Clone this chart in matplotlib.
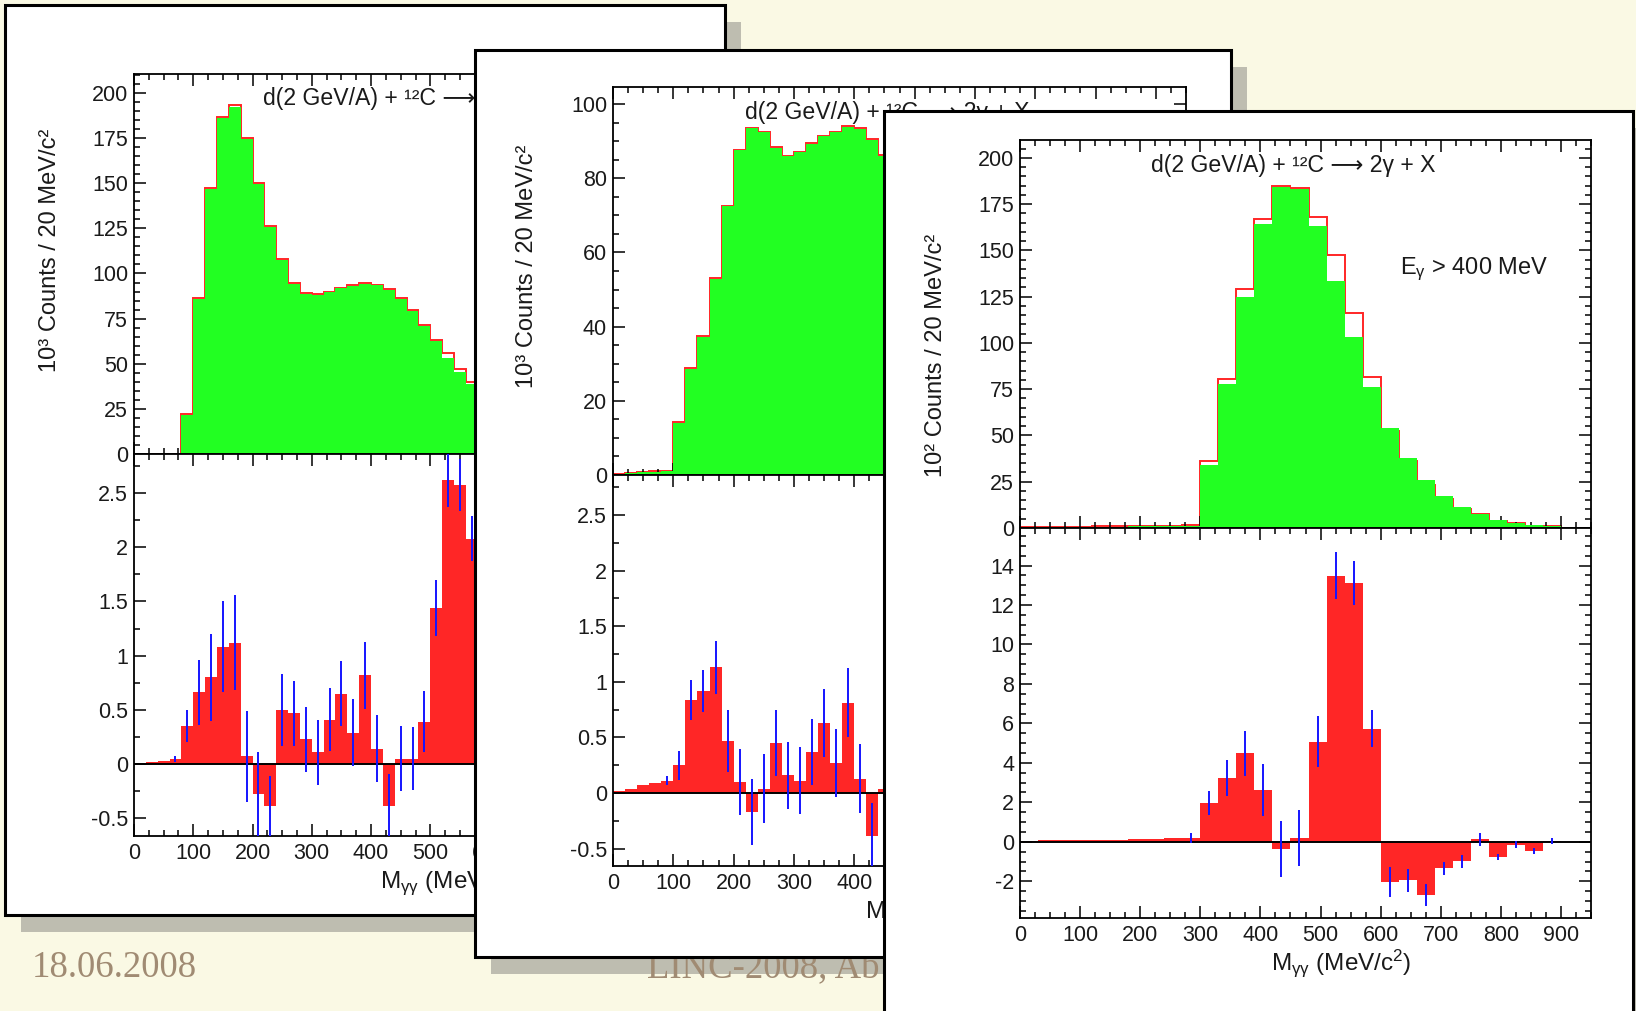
# three overlapping ROOT-style slides: M(gamma gamma) spectra and background-subtracted difference

import numpy as np
from matplotlib import pyplot as plt
from matplotlib.patches import Rectangle
from matplotlib.transforms import Affine2D
import matplotlib.ticker as plticker

plt.rcParams['font.family'] = ['Liberation Sans', 'DejaVu Sans']
plt.rcParams['mathtext.fontset'] = 'custom'
plt.rcParams['mathtext.rm'] = 'Liberation Sans'
plt.rcParams['mathtext.it'] = 'Liberation Sans:italic'
plt.rcParams['mathtext.bf'] = 'Liberation Sans:bold'
plt.rcParams['axes.unicode_minus'] = False

W, H = 1636, 1011

# ---------------- data ----------------
# panel 1: 20 MeV bins starting at 0 (only the part not covered by panel 2)
p1_bin = 20
p1_green = [0, 0, 0, 0, 21.6, 85.8, 147.0, 186.2, 192.3, 174.7, 149.8, 125.8, 107.7, 94.3, 88.7,
            88.2, 89.7, 91.7, 93.2, 94.3, 93.5, 90.8, 85.8, 79.3, 71.0, 62.5, 53.3, 45.2, 38.7]
p1_red = [0, 0, 0, 0, 22.0, 86.2, 147.6, 186.8, 193.2, 175.0, 150.2, 126.2, 108.0, 94.6, 89.0,
          88.6, 90.0, 92.0, 93.6, 94.8, 93.8, 91.2, 86.2, 79.8, 71.6, 63.4, 55.7, 47.2, 39.9]
p1_diff = [0.01, 0.02, 0.03, 0.045, 0.35, 0.66, 0.80, 1.08, 1.12, 0.07, -0.28, -0.39, 0.50, 0.47, 0.23,
           0.11, 0.41, 0.65, 0.29, 0.82, 0.14, -0.39, 0.05, 0.05, 0.39, 1.44, 2.62, 2.57, 2.08]
p1_err = [0, 0, 0, 0.03, 0.15, 0.30, 0.40, 0.42, 0.44, 0.42, 0.39, 0.28, 0.33, 0.30, 0.30,
          0.30, 0.29, 0.30, 0.31, 0.31, 0.31, 0.30, 0.30, 0.29, 0.28, 0.26, 0.25, 0.24, 0.21]

# panel 2: 20 MeV bins
p2_bin = 20
p2_green = [0.3, 0.5, 0.7, 0.9, 1.1, 13.9, 28.5, 37.3, 52.9, 72.4, 87.5, 93.5, 92.4, 88.1, 85.9,
            87.0, 89.3, 91.3, 92.4, 93.8, 93.3, 90.4, 86.0]
p2_red = [0.4, 0.6, 0.8, 1.0, 1.2, 14.2, 28.8, 37.6, 53.2, 72.6, 87.7, 93.6, 92.6, 88.4, 86.1,
          87.2, 89.5, 91.5, 92.6, 94.2, 93.5, 90.6, 86.2]
p2_diff = [0.02, 0.04, 0.07, 0.09, 0.11, 0.25, 0.84, 0.92, 1.13, 0.47, 0.10, -0.17, 0.04, 0.45, 0.16,
           0.11, 0.37, 0.63, 0.27, 0.81, 0.13, -0.39, 0.04]
p2_err = [0, 0, 0, 0, 0.04, 0.13, 0.18, 0.19, 0.24, 0.28, 0.30, 0.30, 0.31, 0.30, 0.30,
          0.30, 0.30, 0.31, 0.31, 0.31, 0.31, 0.30, 0.30]

# panel 3: E_gamma > 400 MeV, 30 MeV bins from 0 to 900
p3_bin = 30
p3_green = [0.3, 0.4, 0.5, 0.6, 0.7, 0.8, 0.9, 1.0, 1.1, 1.2, 33.9, 77.8, 124.7, 164.3, 184.3,
            183.2, 163.4, 133.6, 103.1, 76.0, 54.3, 38.1, 26.2, 17.3, 11.4, 7.4, 4.5, 2.7, 1.4, 0.9]
p3_red = [0.5, 0.6, 0.7, 0.8, 0.9, 1.0, 1.1, 1.2, 1.3, 1.4, 36.1, 80.3, 129.1, 167.0, 184.6,
          183.5, 168.0, 147.3, 116.1, 81.4, 52.2, 36.2, 23.5, 15.9, 10.4, 7.5, 3.7, 2.6, 1.0, 0.9]
p3_diff = [0.06, 0.07, 0.08, 0.09, 0.10, 0.11, 0.13, 0.15, 0.17, 0.20, 1.95, 3.25, 4.48, 2.62, -0.34,
           0.20, 5.08, 13.49, 13.11, 5.74, -2.06, -1.95, -2.71, -1.35, -0.98, 0.12, -0.76, -0.14, -0.46, 0.02]
p3_err = [0, 0, 0, 0, 0, 0, 0, 0, 0, 0.25, 0.61, 0.92, 1.15, 1.31, 1.42,
          1.41, 1.27, 1.18, 1.10, 0.95, 0.76, 0.58, 0.55, 0.34, 0.33, 0.33, 0.15, 0.17, 0.15, 0.15]

title = 'd(2 GeV/A) + ¹²C ⟶ 2γ + X'
xlabel = r'M$_{\mathrm{\gamma\gamma}}$ (MeV/c$^{2}$)'

BG = '#FAF9E4'
SHADOW = '#BEBDB0'
GREEN = '#22FF22'
RED = '#FF2626'
BLUE = '#1414FF'
TXT = '#1a1a1a'

fig = plt.figure(figsize=(W / 100, H / 100), dpi=100, facecolor=BG)
pix = Affine2D().scale(1 / W, -1 / H).translate(0, 1) + fig.transFigure


def slide(x0, y0, x1, y1, z):
    # grey drop shadow then the white sheet with a black frame
    fig.add_artist(Rectangle((x0 + 16, y0 + 17), x1 - x0, y1 - y0, transform=pix,
                             facecolor=SHADOW, edgecolor='none', zorder=z))
    fig.add_artist(Rectangle((x0, y0), x1 - x0, y1 - y0, transform=pix,
                             facecolor='white', edgecolor='black', lw=2.2, zorder=z + 0.5))


def make_ax(x0, y0, x1, y1, z, xlab_max):
    ax = fig.add_axes([x0 / W, 1 - y1 / H, (x1 - x0) / W, (y1 - y0) / H])
    ax.set_zorder(z)
    ax.set_xlim(0, 950)
    ax.xaxis.set_major_locator(plticker.MultipleLocator(100))
    ax.xaxis.set_minor_locator(plticker.MultipleLocator(25))
    # labels lying under the next sheet are left blank
    ax.xaxis.set_major_formatter(plticker.FuncFormatter(
        lambda v, p: f'{v:g}' if v <= xlab_max else ''))
    ax.yaxis.set_major_formatter(plticker.FuncFormatter(lambda v, p: f'{v:g}'))
    ax.tick_params(which='both', direction='in', top=True, right=True, labelsize=15.5,
                   labelcolor=TXT, width=1.1)
    ax.tick_params(which='major', length=8.5)
    ax.tick_params(which='minor', length=4.3)
    ax.tick_params(axis='y', pad=4.3)
    ax.tick_params(axis='x', pad=5)
    for s in ax.spines.values():
        s.set_linewidth(1.3)
    return ax


def panel(frame, top, bot, z, binw, green, red, diff, err, ytop, ybot, ymaj, ymin, bmaj, bmin,
          ylab, ylab_pos, xlab_max, extra=None):
    slide(*frame, z)
    edges = np.arange(len(green) + 1) * binw
    centers = edges[:-1] + binw / 2

    ax1 = make_ax(top[0], top[1], top[2], top[3], z + 1, xlab_max)
    ax1.stairs(red, edges, color=RED, lw=1.4, zorder=1)
    ax1.stairs(green, edges, fill=True, color=GREEN, lw=0, zorder=2)
    ax1.set_ylim(0, ytop)
    ax1.yaxis.set_major_locator(plticker.MultipleLocator(ymaj))
    ax1.yaxis.set_minor_locator(plticker.MultipleLocator(ymin))
    ax1.tick_params(labelbottom=False)
    ax1.text(0.23, 0.935, title, transform=ax1.transAxes, ha='left', va='center', fontsize=16.6,
             color=TXT)
    ax1.text(ylab_pos[0], ylab_pos[1], ylab, transform=ax1.transAxes, rotation=90,
             ha='center', va='center', fontsize=17, color=TXT)
    if extra:
        ax1.text(0.665, 0.667, extra, transform=ax1.transAxes, ha='left', va='center',
                 fontsize=17, color=TXT)

    ax2 = make_ax(bot[0], bot[1], bot[2], bot[3], z + 1, xlab_max)
    ax2.stairs(diff, edges, fill=True, baseline=0, color=RED, lw=0, zorder=1)
    ax2.axhline(0, color='black', lw=1.4, zorder=2)
    err = np.asarray(err)
    diff = np.asarray(diff)
    m = err > 0
    ax2.vlines(centers[m], diff[m] - err[m], diff[m] + err[m], color=BLUE, lw=1.4, zorder=3)
    ax2.set_ylim(*ybot)
    ax2.yaxis.set_major_locator(plticker.MultipleLocator(bmaj))
    ax2.yaxis.set_minor_locator(plticker.MultipleLocator(bmin))
    ax2.text(0.562, -45 / (bot[3] - bot[1]), xlabel, transform=ax2.transAxes, ha='center',
             va='center', fontsize=17.5, color=TXT)


# panel 1 (back)
panel((5, 5, 725, 915), (134, 74, 697, 454), (134, 454, 697, 836), 1,
      p1_bin, p1_green, p1_red, p1_diff, p1_err, 210.5, (-0.664, 2.86), 25, 5, 0.5, 0.25,
      '10³ Counts / 20 MeV/c²', (-0.149, 0.535), 600)

# footer texts of the slide (under panel 2 and 3)
fig.text(32 / W, 1 - 977 / H, '18.06.2008', family='Liberation Serif', size=26.5,
         color='#A08B73', va='baseline', zorder=4.2)
fig.text(647 / W, 1 - 977 / H, 'LINC-2008, Ab', family='Liberation Serif', size=26.5,
         color='#A08B73', va='baseline', zorder=4.2)

# panel 2 (middle)
panel((475, 50, 1231, 957), (613, 87, 1186, 475), (613, 475, 1186, 866), 4,
      p2_bin, p2_green, p2_red, p2_diff, p2_err, 104.6, (-0.656, 2.86), 20, 5, 0.5, 0.25,
      '10³ Counts / 20 MeV/c²', (-0.150, 0.539), 400)

# panel 3 (front)
panel((884, 111, 1633, 1040), (1020, 140, 1591, 528), (1020, 528, 1591, 918), 7,
      p3_bin, p3_green, p3_red, p3_diff, p3_err, 209.7, (-3.86, 15.9), 25, 5, 2, 0.5,
      '10² Counts / 20 MeV/c²', (-0.147, 0.445), 900, extra=r'E$_{\mathrm{\gamma}}$ > 400 MeV')

fig.savefig('out.png', dpi=100, facecolor=BG)
